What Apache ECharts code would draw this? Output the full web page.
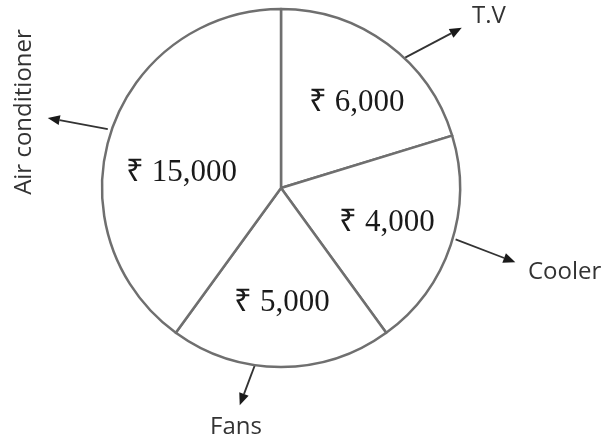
<!DOCTYPE html>
<html>
<head>
<meta charset="utf-8">
<script src="https://cdn.jsdelivr.net/npm/echarts@6/dist/echarts.min.js"></script>
<style>
  html, body { margin: 0; background: #fff; }
  #chart { width: 606px; height: 443px; }
</style>
</head>
<body>
<div id="chart"></div>
<script>
const categories = ['T.V', 'Cooler', 'Fans', 'Air conditioner'];
const amounts = [6000, 4000, 5000, 15000];
// slice sizes as drawn in the picture (degrees) - the drawing is not to scale
const sliceDegrees = [73, 71, 72, 144];

const cx = 281, cy = 188, R = 179;

// small nudges for the amount labels
const labelNudge = [[8, 6], [-2, -1], [1, 1], [9, 20]];

// arrows: [angle on circle, radius, direction, length]
const arrows = [
    [46.4, 180, 27.8, 64],
    [-16.4, 182, -21, 64],
    [-98.4, 179, -110.6, 43],
    [161.2, 183, 169.6, 61]
];
// category text: [x, y, align, rotation]
const nameLayout = [
    [472, 16, 'left', 0],
    [528, 272, 'left', 0],
    [236, 427, 'center', 0],
    [24, 112, 'center', Math.PI / 2]
];

const myChart = echarts.init(document.getElementById('chart'));

function arrow(a, r, b, len) {
    const rad = Math.PI / 180;
    const sx = cx + r * Math.cos(a * rad), sy = cy - r * Math.sin(a * rad);
    const ux = Math.cos(b * rad), uy = -Math.sin(b * rad);
    const tx = sx + len * ux, ty = sy + len * uy;
    const hl = 12, hw = 5;
    const bx = tx - hl * ux, by = ty - hl * uy;
    const px = -uy, py = ux;
    return [
        {
            type: 'line',
            shape: { x1: sx, y1: sy, x2: bx, y2: by },
            style: { stroke: '#333', lineWidth: 1.8 }
        },
        {
            type: 'polygon',
            shape: { points: [[tx, ty], [bx + hw * px, by + hw * py], [bx - hw * px, by - hw * py]] },
            style: { fill: '#1a1a1a' }
        }
    ];
}

let graphics = [];
arrows.forEach(function (ar) {
    graphics = graphics.concat(arrow(ar[0], ar[1], ar[2], ar[3]));
});
categories.forEach(function (name, i) {
    const l = nameLayout[i];
    graphics.push({
        type: 'text',
        x: l[0],
        y: l[1],
        rotation: l[3],
        style: {
            text: name,
            fontSize: 24,
            fontFamily: 'Open Sans',
            fill: '#333',
            align: l[2],
            verticalAlign: 'middle'
        }
    });
});

const pieData = categories.map(function (name, i) {
    return { name: name, value: sliceDegrees[i] };
});

var option = {
    animation: false,
    graphic: graphics,
    series: [
        {
            type: 'pie',
            silent: true,
            startAngle: 90,
            clockwise: true,
            center: [cx, cy],
            radius: R,
            label: { show: false },
            labelLine: { show: false },
            itemStyle: {
                color: '#fff',
                borderColor: '#6f6f6f',
                borderWidth: 2.5
            },
            data: pieData
        },
        {
            // invisible ring used only to place the amounts
            type: 'pie',
            silent: true,
            startAngle: 90,
            clockwise: true,
            center: [cx, cy],
            radius: 222,
            itemStyle: { color: 'rgba(0,0,0,0)', borderWidth: 0 },
            label: {
                show: true,
                position: 'inside',
                fontFamily: 'Liberation Serif',
                fontSize: 31,
                color: '#1a1a1a',
                textBorderWidth: 0,
                formatter: function (p) {
                    return '₹ ' + amounts[p.dataIndex].toLocaleString('en-US');
                }
            },
            labelLine: { show: false },
            labelLayout: function (params) {
                const o = labelNudge[params.dataIndex];
                return { dx: o[0], dy: o[1] };
            },
            data: pieData
        }
    ]
};
myChart.setOption(option);
</script>
</body>
</html>
